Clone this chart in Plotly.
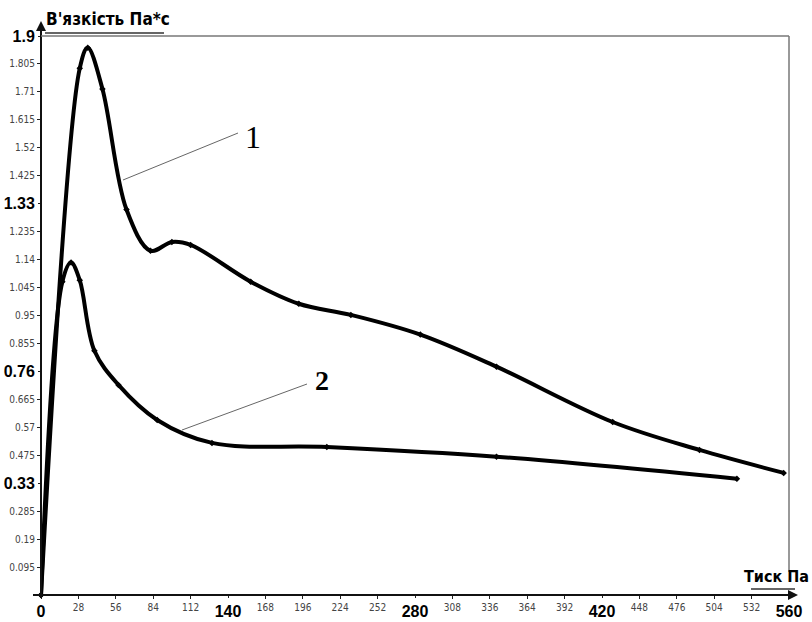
import plotly.graph_objects as go

# ---- data ----
x1 = [0, 29, 35, 46, 64, 82, 98, 112, 157, 193, 232, 284, 341, 428, 493, 556]
y1 = [0, 1.79, 1.86, 1.72, 1.31, 1.17, 1.20, 1.19, 1.065, 0.99, 0.952, 0.885, 0.776, 0.588, 0.493, 0.415]

x2 = [0, 16, 22.5, 29, 40, 58, 87, 128, 214, 341, 521]
y2 = [0, 1.065, 1.13, 1.07, 0.83, 0.714, 0.595, 0.517, 0.503, 0.47, 0.395]

x_small_ticks = [0, 28, 56, 84, 112, 168, 196, 224, 252, 308, 336, 364, 392, 448, 476, 504, 532]
x_small_text = ["", "28", "56", "84", "112", "168", "196", "224", "252", "308", "336",
                "364", "392", "448", "476", "504", "532"]
x_big_ticks = [0, 140, 280, 420, 560]
x_big_text = ["0", "140", "280", "420", "560"]

y_small_ticks = [0.095, 0.19, 0.285, 0.475, 0.57, 0.665, 0.855, 0.95, 1.045, 1.14, 1.235,
                 1.425, 1.52, 1.615, 1.71, 1.805]
y_small_text = ["0.095", "0.19", "0.285", "0.475", "0.57", "0.665", "0.855", "0.95", "1.045",
                "1.14", "1.235", "1.425", "1.52", "1.615", "1.71", "1.805"]
y_big_ticks = [0.38, 0.76, 1.33, 1.9]
y_big_text = ["0.33", "0.76", "1.33", "1.9"]

y_title = "В'язкість Па*с"
x_title = "Тиск Па"

# ---- layout geometry ----
W, H = 812, 622
L, R, T, B = 41, 23, 36, 27
PW, PH = W - L - R, H - T - B


def px(x):
    return (x - L) / PW


def py(y):
    return (H - B - y) / PH


NARROW = "DejaVu Sans Condensed, Liberation Sans Narrow, Arial Narrow, sans-serif"
ARIAL = "Liberation Sans, Arial, sans-serif"

fig = go.Figure()
for xs, ys in ((x1, y1), (x2, y2)):
    fig.add_trace(go.Scatter(
        x=xs, y=ys, mode="lines+markers",
        line=dict(color="black", width=4, shape="spline", smoothing=1.0),
        marker=dict(color="black", size=5, symbol="diamond"),
        showlegend=False, hoverinfo="skip", cliponaxis=False,
    ))
# invisible carrier so that the bold overlay axes are rendered
fig.add_trace(go.Scatter(x=x1, y=y1, xaxis="x2", yaxis="y2", mode="none",
                         showlegend=False, hoverinfo="skip"))

fig.update_layout(
    width=W, height=H,
    margin=dict(l=L, r=R, t=T, b=B, autoexpand=False),
    paper_bgcolor="white", plot_bgcolor="white",
    xaxis=dict(range=[0, 560], showgrid=False, zeroline=False, showline=False,
               tickmode="array", tickvals=x_small_ticks, ticktext=x_small_text,
               ticks="outside", ticklen=3, tickwidth=1, tickcolor="#222",
               tickfont=dict(family=NARROW, size=10, color="#444"), automargin=False),
    xaxis2=dict(range=[0, 560], overlaying="x", side="bottom", anchor="y2",
                showgrid=False, zeroline=False, showline=False,
                tickmode="array", tickvals=x_big_ticks, ticktext=x_big_text,
                ticks="outside", ticklen=2, tickcolor="#222",
                tickfont=dict(family=ARIAL, size=16, color="black", weight="bold"),
                automargin=False),
    yaxis=dict(range=[0, 1.9], showgrid=False, zeroline=False, showline=False,
               tickmode="array", tickvals=y_small_ticks, ticktext=y_small_text,
               ticks="outside", ticklen=3, tickwidth=1, tickcolor="#222",
               tickfont=dict(family=NARROW, size=10, color="#444"), automargin=False),
    yaxis2=dict(range=[0, 1.9], overlaying="y", side="left", anchor="x2",
                showgrid=False, zeroline=False, showline=False,
                tickmode="array", tickvals=y_big_ticks, ticktext=y_big_text,
                ticks="outside", ticklen=2, tickcolor="#222",
                tickfont=dict(family=ARIAL, size=16, color="black", weight="bold"),
                automargin=False),
)

shapes = []
# axes lines
shapes.append(dict(type="line", xref="paper", yref="paper", x0=px(33), x1=px(795), y0=0, y1=0,
                   line=dict(color="#111", width=2)))
shapes.append(dict(type="line", xref="paper", yref="paper", x0=0, x1=0, y0=py(598), y1=py(24),
                   line=dict(color="#111", width=2)))
# frame (top, right)
shapes.append(dict(type="line", xref="paper", yref="paper", x0=0, x1=1, y0=1, y1=1,
                   line=dict(color="#777", width=1.5)))
shapes.append(dict(type="line", xref="paper", yref="paper", x0=1, x1=1, y0=py(572), y1=1,
                   line=dict(color="#777", width=1.5)))
# title underlines
shapes.append(dict(type="line", xref="paper", yref="paper", x0=px(45), x1=px(164), y0=py(33), y1=py(33),
                   line=dict(color="#333", width=1.5)))
shapes.append(dict(type="line", xref="paper", yref="paper", x0=px(751), x1=px(795), y0=py(589), y1=py(589),
                   line=dict(color="#333", width=1.5)))
# leader lines
shapes.append(dict(type="line", xref="paper", yref="paper", x0=px(123), y0=py(180), x1=px(238), y1=py(133),
                   line=dict(color="#666", width=1)))
shapes.append(dict(type="line", xref="paper", yref="paper", x0=px(182), y0=py(430), x1=px(307), y1=py(384),
                   line=dict(color="#666", width=1)))
fig.update_layout(shapes=shapes)

ann = []
# arrow heads
ann.append(dict(xref="paper", yref="paper", x=px(798), y=0, ax=-14, ay=0, axref="pixel", ayref="pixel",
                text="", showarrow=True, arrowhead=2, arrowsize=1, arrowwidth=2, arrowcolor="#111"))
ann.append(dict(xref="paper", yref="paper", x=0, y=py(21), ax=0, ay=14, axref="pixel", ayref="pixel",
                text="", showarrow=True, arrowhead=2, arrowsize=1, arrowwidth=2, arrowcolor="#111"))
# axis titles
ann.append(dict(xref="paper", yref="paper", x=px(44), y=py(31), xanchor="left", yanchor="bottom",
                text="<b>" + y_title + "</b>", showarrow=False,
                font=dict(family=NARROW, size=17, color="black")))
ann.append(dict(xref="paper", yref="paper", x=px(811), y=py(588), xanchor="right", yanchor="bottom",
                text="<b>" + x_title + "</b>", showarrow=False,
                font=dict(family=NARROW, size=16, color="black")))
# curve labels
ann.append(dict(xref="paper", yref="paper", x=px(253), y=py(137), xanchor="center", yanchor="middle",
                text="1", showarrow=False,
                font=dict(family="Liberation Serif, DejaVu Serif, serif", size=32, color="black")))
ann.append(dict(xref="paper", yref="paper", x=px(322), y=py(381), xanchor="center", yanchor="middle",
                text="<b>2</b>", showarrow=False,
                font=dict(family="Liberation Serif, DejaVu Serif, serif", size=28, color="black")))
fig.update_layout(annotations=ann)

fig.write_html("out.html")
